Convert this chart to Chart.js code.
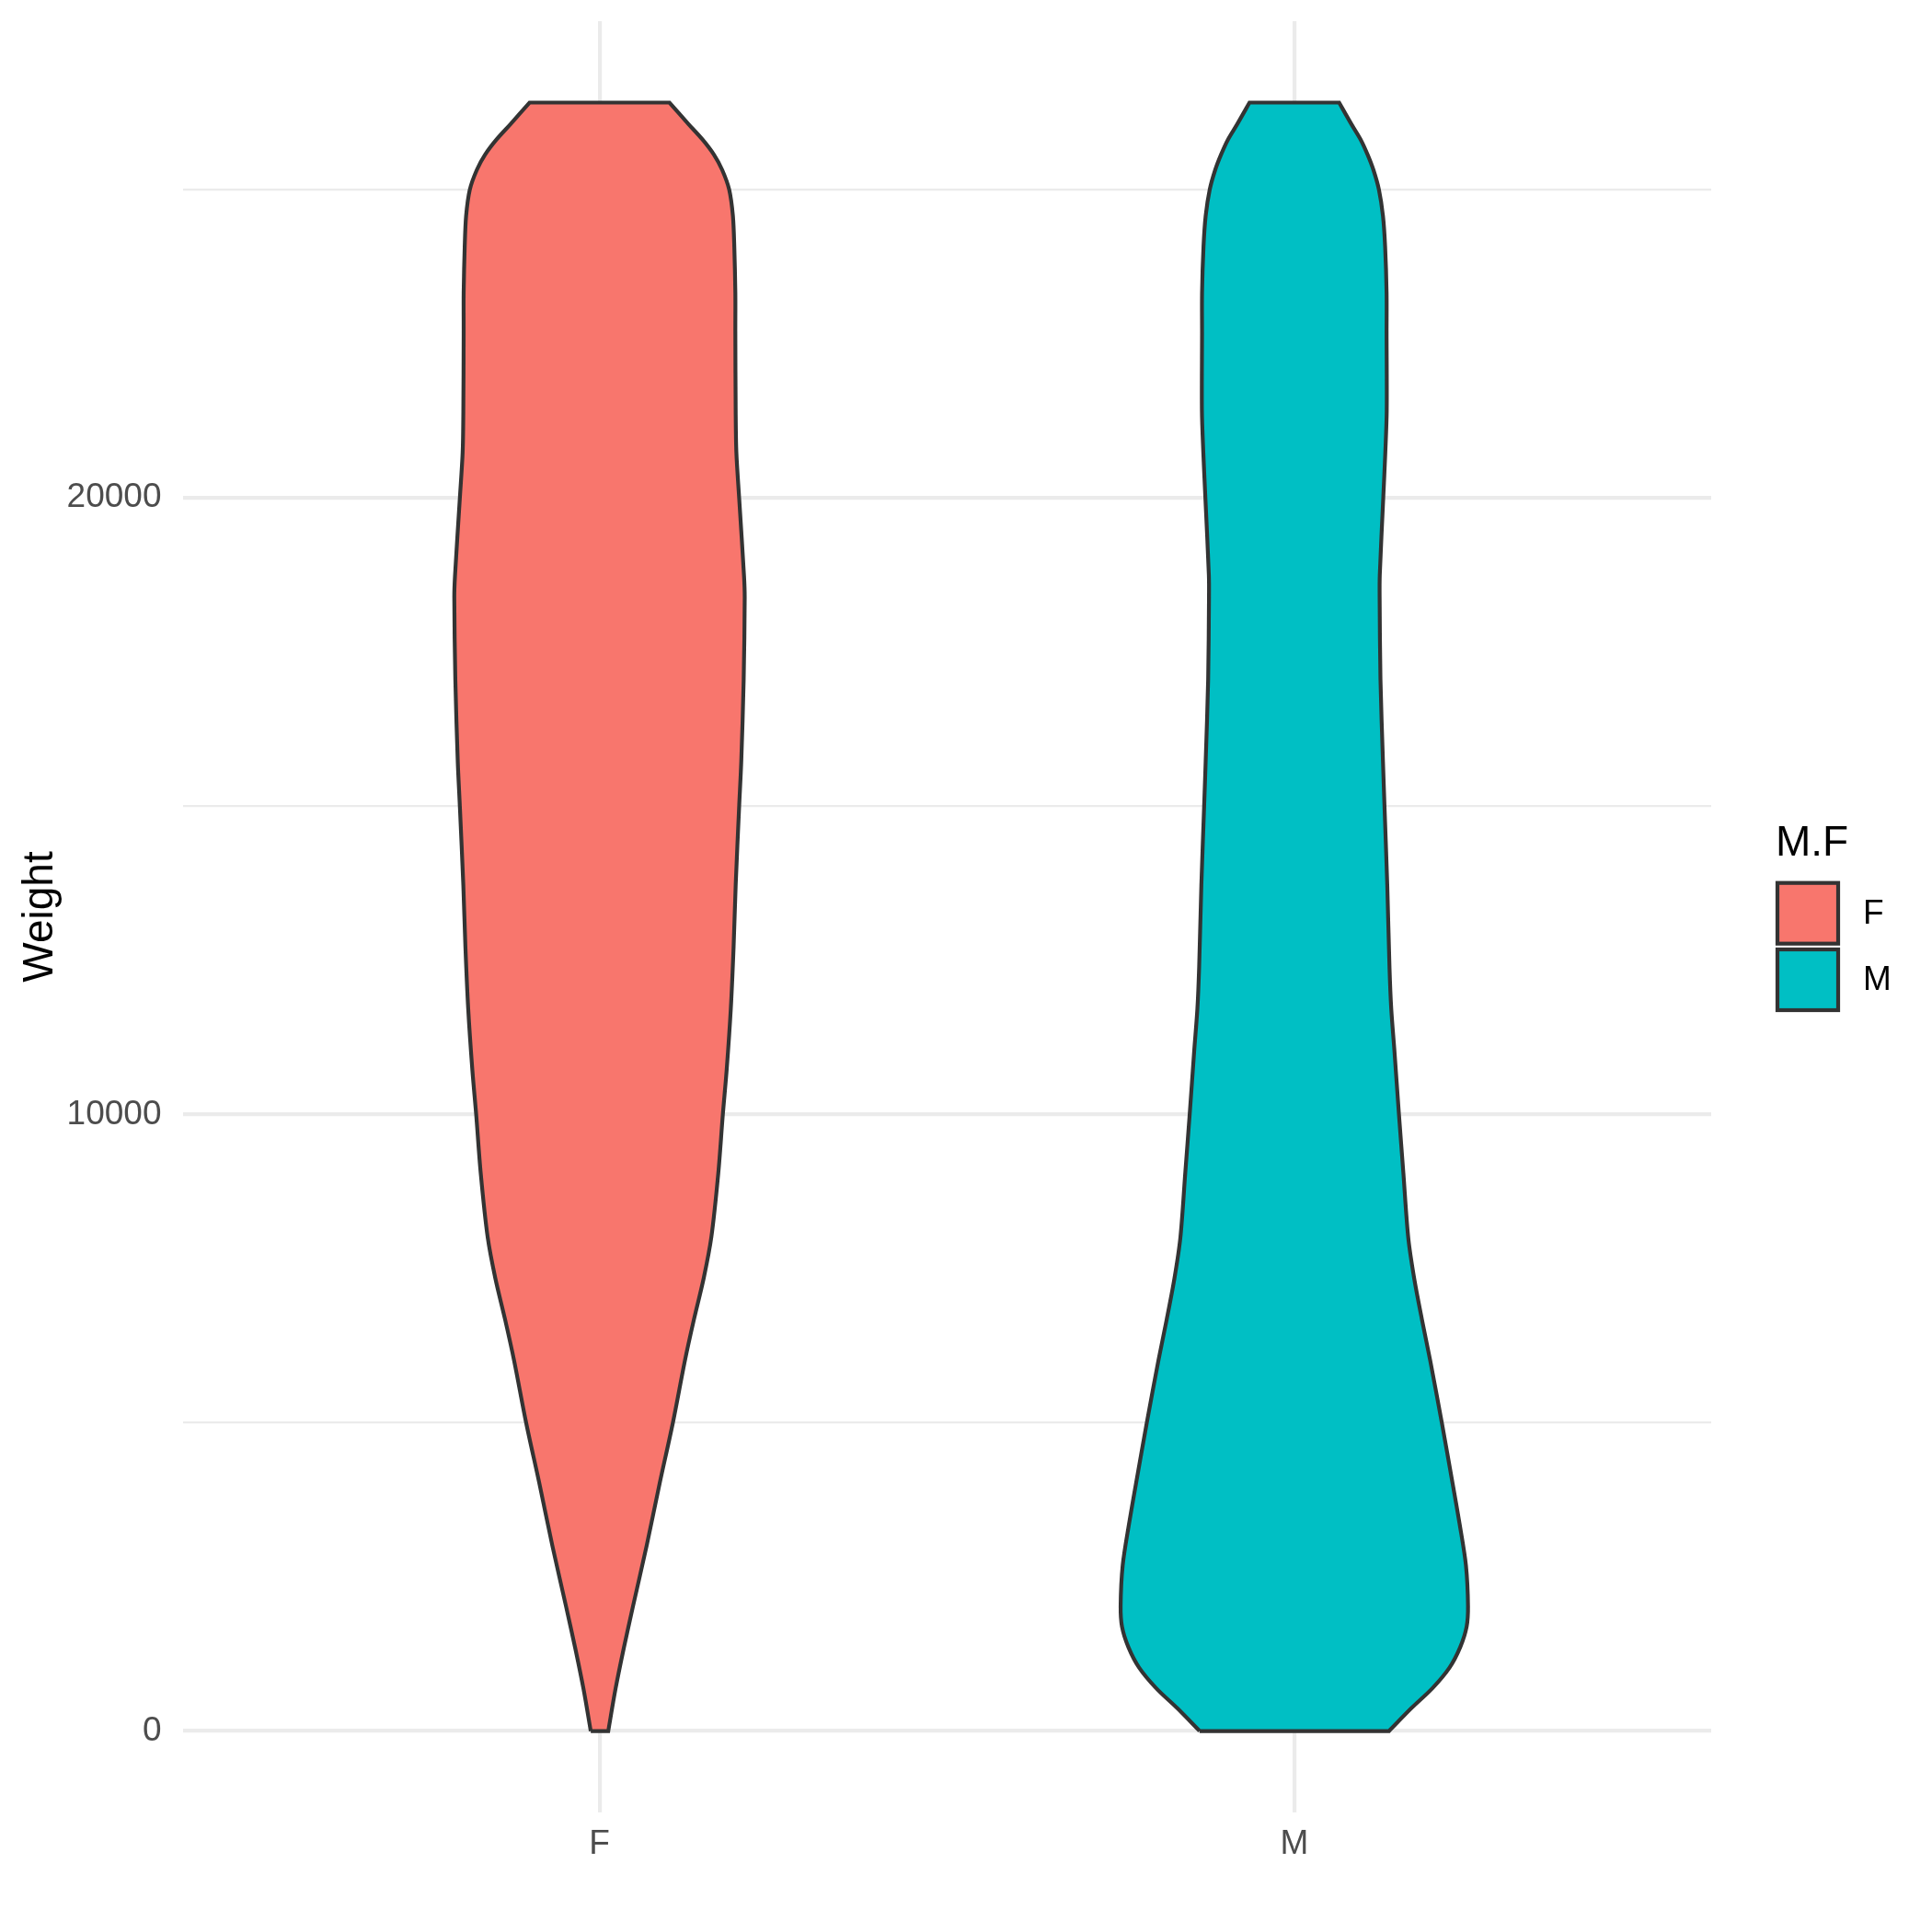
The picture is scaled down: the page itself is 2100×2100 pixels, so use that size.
<!DOCTYPE html>
<html>
<head>
<meta charset="utf-8">
<title>Weight by M.F</title>
<script src="https://cdn.jsdelivr.net/npm/chart.js@4/dist/chart.umd.min.js"></script>
<style>
  html, body { margin: 0; padding: 0; background: #fff; }
  canvas { display: block; }
</style>
</head>
<body>
<canvas id="violin" width="2100" height="2100"></canvas>
<script>
// groups, in x order
const categories = ['F', 'M'];
const fillColors = ['#F8766D', '#00BFC4'];

// violin outlines: Weight value and half width (in category units)
const fY    = [0, 680, 1347, 2013, 3013, 4013, 5000, 6013, 6680, 7347, 8013, 9053, 10000, 10720, 11720, 12720, 13720, 15000, 15720, 17053, 18387, 18733, 20000, 20733, 21400, 22684, 23330, 24076, 24574, 25000, 25320, 25568, 25817, 26065, 26413];
const fHalf = [0.0126, 0.023, 0.035, 0.048, 0.068, 0.0865, 0.1056, 0.123, 0.136, 0.150, 0.161, 0.171, 0.1775, 0.183, 0.189, 0.193, 0.196, 0.201, 0.204, 0.2075, 0.209, 0.208, 0.201, 0.197, 0.196, 0.1955, 0.1955, 0.194, 0.192, 0.1867, 0.1766, 0.1647, 0.148, 0.128, 0.1007];

const mY    = [0, 365, 697, 1029, 1361, 1693, 2025, 2689, 3353, 4017, 5000, 6009, 6673, 7337, 8001, 9045, 10000, 11048, 11716, 12383, 13718, 15000, 15721, 17056, 18391, 18750, 20000, 20745, 21410, 22684, 23330, 24076, 24574, 25000, 25320, 25568, 25817, 26065, 26413];
const mHalf = [0.1364, 0.168, 0.199, 0.2234, 0.2388, 0.248, 0.250, 0.247, 0.238, 0.2278, 0.2123, 0.1956, 0.1837, 0.1726, 0.164, 0.157, 0.1506, 0.144, 0.1395, 0.137, 0.1338, 0.1298, 0.1276, 0.124, 0.1228, 0.123, 0.128, 0.131, 0.133, 0.1328, 0.1328, 0.1307, 0.1276, 0.1218, 0.1139, 0.1055, 0.0953, 0.0821, 0.0645];

// axis settings
const yTicks = [0, 5000, 10000, 15000, 20000, 25000];
const yLabelled = [0, 10000, 20000];
const yMin = -1320, yMax = 27734;
const xMin = 0.4, xMax = 2.6;

const FONT = "'Liberation Sans', Arial, 'DejaVu Sans', sans-serif";

// closed outline: left side going up, right side coming down.
// end points of each side are doubled so the flat top/bottom keep sharp corners
function outline(center, ys, halves) {
    const left = ys.map((y, i) => ({ x: center - halves[i], y }));
    const right = ys.map((y, i) => ({ x: center + halves[i], y })).reverse();
    return [left[0], ...left, left[left.length - 1],
            right[0], ...right, right[right.length - 1], left[0]];
}

const shapes = [outline(1, fY, fHalf), outline(2, mY, mHalf)];

const datasets = shapes.map((pts, i) => ({
    label: categories[i],
    data: pts,
    showLine: true,
    fill: 'shape',
    backgroundColor: fillColors[i],
    borderColor: '#333333',
    borderWidth: 4.2,
    pointRadius: 0,
    pointHoverRadius: 0,
    tension: 0.3,
}));

// ggplot-style legend on the right
const sideLegend = {
    id: 'sideLegend',
    afterDraw(chart) {
        const ctx = chart.ctx;
        ctx.save();
        ctx.fillStyle = '#000';
        ctx.font = '46px ' + FONT;
        ctx.textBaseline = 'alphabetic';
        ctx.textAlign = 'left';
        ctx.fillText('M.F', 1930, 930);
        categories.forEach((c, i) => {
            const top = 957.7 + i * 72.3;
            ctx.fillStyle = fillColors[i];
            ctx.fillRect(1932, top + 2, 66, 66);
            ctx.strokeStyle = '#333333';
            ctx.lineWidth = 4.2;
            ctx.strokeRect(1932, top + 2, 66, 66);
            ctx.fillStyle = '#000';
            ctx.font = '37px ' + FONT;
            ctx.textBaseline = 'middle';
            ctx.fillText(c, 2025, top + 36);
        });
        ctx.restore();
    }
};

new Chart(document.getElementById('violin').getContext('2d'), {
    type: 'scatter',
    data: { datasets },
    options: {
        responsive: false,
        devicePixelRatio: 1,
        animation: false,
        layout: { padding: { left: 0, right: 240, top: 23, bottom: 0 } },
        plugins: {
            legend: { display: false },
            tooltip: { enabled: false },
        },
        scales: {
            x: {
                type: 'linear',
                min: xMin,
                max: xMax,
                afterBuildTicks: (s) => { s.ticks = categories.map((c, i) => ({ value: i + 1 })); },
                afterFit: (s) => { s.height = 130; s.paddingLeft = 0; s.paddingRight = 0; },
                ticks: {
                    callback: (v) => categories[Math.round(v) - 1] || '',
                    color: '#4D4D4D',
                    font: { family: FONT, size: 37 },
                    padding: 13,
                    maxRotation: 0,
                },
                grid: { color: '#EBEBEB', lineWidth: 4.2, drawTicks: false },
                border: { display: false },
            },
            y: {
                type: 'linear',
                min: yMin,
                max: yMax,
                afterBuildTicks: (s) => { s.ticks = yTicks.map((v) => ({ value: v })); },
                afterFit: (s) => { s.width = 198.5; s.paddingTop = 0; s.paddingBottom = 0; },
                ticks: {
                    callback: (v) => (yLabelled.includes(v) ? String(v) : ''),
                    color: '#4D4D4D',
                    font: { family: FONT, size: 37 },
                    padding: 23,
                },
                grid: {
                    color: '#EBEBEB',
                    lineWidth: (c) => (c.tick && yLabelled.includes(c.tick.value) ? 4.2 : 2.2),
                    drawTicks: false,
                },
                border: { display: false },
                title: {
                    display: true,
                    text: 'Weight',
                    color: '#000',
                    font: { family: FONT, size: 46 },
                    padding: { top: 17, bottom: 0 },
                },
            },
        },
    },
    plugins: [sideLegend],
});
</script>
</body>
</html>
